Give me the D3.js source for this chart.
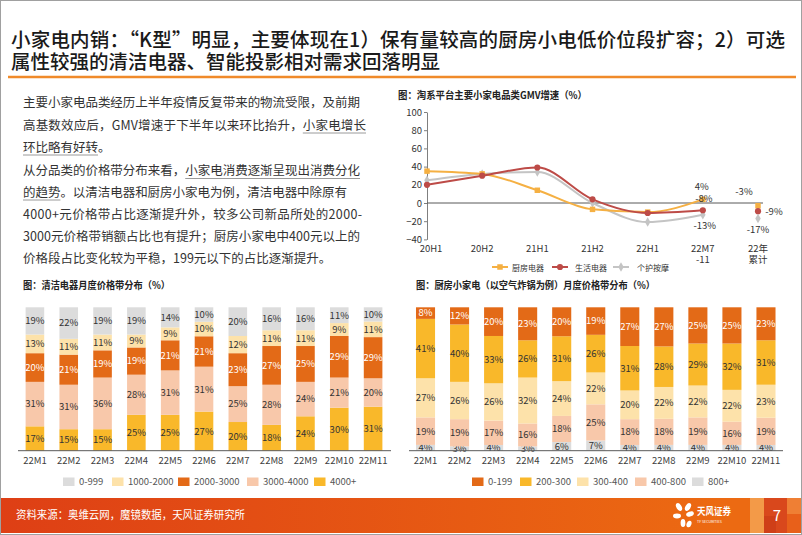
<!DOCTYPE html>
<html><head><meta charset="utf-8">
<script src="https://cdn.jsdelivr.net/npm/d3@7"></script>
<style>
body{margin:0;background:#fff}
svg{display:block}
text{font-family:"Noto Sans CJK SC","Noto Sans",sans-serif}
</style>
</head><body>
<svg id="c" width="802" height="535"></svg>
<script>
// ---------------- DATA ----------------
const titleLines = ["小家电内销：“K型”明显，主要体现在1）保有量较高的厨房小电低价位段扩容；2）可选",
                    "属性较强的清洁电器、智能投影相对需求回落明显"];
const paragraph = [
  [["主要小家电品类经历上半年疫情反复带来的物流受限，及前期",0]],
  [["高基数效应后，GMV增速于下半年以来环比抬升，",0],["小家电增长",1]],
  [["环比略有好转",1],["。",0]],
  [["从分品类的价格带分布来看，",0],["小家电消费逐渐呈现出消费分化",1]],
  [["的趋势",1],["。以清洁电器和厨房小家电为例，清洁电器中除原有",0]],
  [["4000+元价格带占比逐渐提升外，较多公司新品所处的2000-",0]],
  [["3000元价格带销额占比也有提升；厨房小家电中400元以上的",0]],
  [["价格段占比变化较为平稳，199元以下的占比逐渐提升。",0]]
];

const gmvTitle = "图：淘系平台主要小家电品类GMV增速（%）";
const gmvPeriods = ["20H1","20H2","21H1","21H2","22H1","22M7-11","22年累计"];
const gmvPeriodLabels = [["20H1"],["20H2"],["21H1"],["21H2"],["22H1"],["22M7","-11"],["22年","累计"]];
const gmvSeriesNames = ["厨房电器","生活电器","个护按摩"];
const kitchenGmv = [35,32,14,-7,-10,4];
const lifeGmv    = [20,30,39,4,-11,-8];
const careGmv    = [25,32,34,0,-21,-13];
const cumulativeGmv = [-3,-9,-17];
const gmvTicks = [100,80,60,40,20,0,-20,-40];

const months = ["22M1","22M2","22M3","22M4","22M5","22M6","22M7","22M8","22M9","22M10","22M11"];

const cleanTitle = "图：清洁电器月度价格带分布（%）";
const cleanBands = ["0-999","1000-2000","2000-3000","3000-4000","4000+"];
const clean0_999     = [19,22,19,19,14,10,20,16,16,11,10];
const clean1000_2000 = [13,11,11,9,9,10,12,11,11,9,11];
const clean2000_3000 = [20,21,19,19,21,21,23,27,25,29,29];
const clean3000_4000 = [31,31,36,28,31,31,25,28,24,21,20];
const clean4000p     = [17,15,15,25,25,27,20,18,24,30,31];

const fryerTitle = "图：厨房小家电（以空气炸锅为例）月度价格带分布（%）";
const fryerBands = ["0-199","200-300","300-400","400-800","800+"];
const fryer0_199   = [8,12,20,23,20,19,27,27,25,25,23];
const fryer200_300 = [41,40,33,26,31,26,31,28,29,32,31];
const fryer300_400 = [27,26,26,32,24,22,20,22,22,22,23];
const fryer400_800 = [19,19,17,16,18,25,18,18,19,16,19];
const fryer800p    = [4,3,4,3,6,7,4,4,4,4,4];

const sourceText = "资料来源：奥维云网，魔镜数据，天风证券研究所";
const pageNo = "7";

// ---------------- DRAW ----------------
const svg = d3.select("#c");
const C = {gray:"#dcdcdc", pale:"#fde2aa", dark:"#e36a17", salmon:"#f8c8aa", gold:"#f9b82a"};

// page border
svg.append("rect").attr("x",0.5).attr("y",0.5).attr("width",801).attr("height",534)
  .attr("fill","none").attr("stroke","#a0a0a0");

// main title
const tl = [{x:11,y:47,len:774},{x:11,y:69,len:null}];
titleLines.forEach((t,i)=>{
  const e = svg.append("text").attr("x",tl[i].x).attr("y",tl[i].y)
    .attr("font-size",19.5).attr("font-weight",500).attr("fill","#1a1a1a").text(t);
  if(tl[i].len) e.attr("textLength",tl[i].len).attr("lengthAdjust","spacing");
});
svg.append("line").attr("x1",8).attr("x2",796).attr("y1",77).attr("y2",77)
  .attr("stroke","#f08a2a").attr("stroke-width",2.5);

// paragraph
const paraY = [106.5,129.5,151.5,175,196.5,218.5,241,262.5];
const paraLen = [337,343,null,337,324,339,337,null];
paragraph.forEach((segs,i)=>{
  const txt = segs.map(s=>s[0]).join("");
  const t = svg.append("text").attr("x",23).attr("y",paraY[i])
    .attr("font-size",12.5).attr("fill","#333").text(txt);
  if(paraLen[i]) t.attr("textLength",paraLen[i]).attr("lengthAdjust","spacing");
  const node = t.node();
  let idx = 0;
  segs.forEach(s=>{
    const n = s[0].length;
    if(s[1]){
      const x0 = node.getStartPositionOfChar(idx).x;
      const x1 = node.getEndPositionOfChar(idx+n-1).x;
      svg.append("line").attr("x1",x0).attr("x2",x1)
        .attr("y1",paraY[i]+3.5).attr("y2",paraY[i]+3.5)
        .attr("stroke","#9a9a9a").attr("stroke-width",1);
    }
    idx += n;
  });
});

// ---------------- LINE CHART ----------------
(function(){
  const g = svg.append("g");
  g.append("text").attr("x",398).attr("y",99).attr("font-size",10).attr("font-weight","bold")
    .attr("fill","#222").text(gmvTitle).attr("textLength",189).attr("lengthAdjust","spacingAndGlyphs");
  const x = d3.scalePoint().domain(gmvPeriods).range([427,758]);
  const y = d3.scaleLinear().domain([-40,100]).range([239.4,112]);
  const ax = g.append("g").attr("transform","translate(427,0)")
    .call(d3.axisLeft(y).tickValues(gmvTicks).tickSize(3).tickSizeOuter(0));
  ax.select(".domain").attr("stroke","#7f7f7f");
  ax.selectAll(".tick line").attr("stroke","#7f7f7f");
  ax.selectAll(".tick text").attr("font-family","Liberation Sans, Arial").attr("font-size",9.5)
    .attr("fill","#333").attr("x",-5);
  g.append("line").attr("x1",427).attr("x2",763).attr("y1",y(0)).attr("y2",y(0))
    .attr("stroke","#595959").attr("stroke-width",1);
  // x labels
  gmvPeriods.forEach((p,i)=>{
    const t = g.append("text").attr("text-anchor","middle").attr("font-size",9.5)
      .attr("font-family", i===6 ? "Noto Sans CJK SC" : "Liberation Sans, Arial")
      .attr("fill","#333");
    gmvPeriodLabels[i].forEach((l,j)=>{
      t.append("tspan").attr("x",x(p)+(i===0?4:0)).attr("y",252+j*11).text(l);
    });
  });
  const series = [kitchenGmv,lifeGmv,careGmv];
  const colors = ["#f5b043","#bd4b47","#c4c4c4"];
  const shapes = [d3.symbolSquare,d3.symbolCircle,d3.symbolDiamond];
  const sizes = [30,30,26];
  const line = d3.line().x((d,i)=>x(gmvPeriods[i])).y(d=>y(d)).curve(d3.curveMonotoneX);
  [2,0,1].forEach(k=>{
    g.append("path").datum(series[k]).attr("d",line).attr("fill","none")
      .attr("stroke",colors[k]).attr("stroke-width",2);
    g.selectAll(null).data(series[k]).enter().append("path")
      .attr("d",d3.symbol().type(shapes[k]).size(sizes[k]))
      .attr("transform",(d,i)=>`translate(${x(gmvPeriods[i])},${y(d)})`)
      .attr("fill",colors[k]);
    g.append("path").attr("d",d3.symbol().type(shapes[k]).size(sizes[k]))
      .attr("transform",`translate(${x(gmvPeriods[6])},${y(cumulativeGmv[k])})`)
      .attr("fill",colors[k]);
  });
  // data labels
  const lab = (txt,px,py)=>g.append("text").attr("x",px).attr("y",py)
    .attr("text-anchor","middle").attr("font-family","Liberation Sans, Arial")
    .attr("font-size",9.5).attr("fill","#333").text(txt);
  const p6 = x(gmvPeriods[5]), p7 = x(gmvPeriods[6]);
  lab(kitchenGmv[5]+"%", p6-1, y(kitchenGmv[5])-9);
  lab(lifeGmv[5]+"%", p6+1, y(lifeGmv[5])-8.5);
  lab(careGmv[5]+"%", p6+2, y(careGmv[5])+14);
  lab(cumulativeGmv[0]+"%", p7-14, y(cumulativeGmv[0])-10.5);
  lab(cumulativeGmv[1]+"%", p7+16, y(cumulativeGmv[1])+3.5);
  lab(cumulativeGmv[2]+"%", p7, y(cumulativeGmv[2])+15);
  // legend
  const lx = [492,552,613], tx = [512,575,637];
  gmvSeriesNames.forEach((n,k)=>{
    g.append("line").attr("x1",lx[k]).attr("x2",lx[k]+16).attr("y1",267).attr("y2",267)
      .attr("stroke",colors[k]).attr("stroke-width",2);
    g.append("path").attr("d",d3.symbol().type(shapes[k]).size(sizes[k]))
      .attr("transform",`translate(${lx[k]+8},267)`).attr("fill",colors[k]);
    g.append("text").attr("x",tx[k]).attr("y",270.5).attr("font-size",8)
      .attr("fill","#333").text(n);
  });
})();

// ---------------- STACKED BARS ----------------
function stackChart(cfg){
  const g = svg.append("g");
  g.append("text").attr("x",cfg.titleX).attr("y",289).attr("font-size",9.8).attr("font-weight","bold")
    .attr("fill","#222").text(cfg.title).attr("textLength",cfg.titleLen).attr("lengthAdjust","spacingAndGlyphs");
  const rows = months.map((m,i)=>{const r={month:m}; cfg.keys.forEach((k,j)=>r[k]=cfg.series[j][i]); return r;});
  const stacked = d3.stack().keys(cfg.keys).offset(d3.stackOffsetExpand)(rows);
  const x = d3.scaleBand().domain(months).range(cfg.xr).paddingInner(cfg.pad).paddingOuter(cfg.pad/2);
  const y = d3.scaleLinear().domain([0,1]).range([450.7,307.3]);
  stacked.forEach(s=>{
    const k = s.key;
    g.selectAll(null).data(s).enter().append("rect")
      .attr("x",d=>x(d.data.month)).attr("width",x.bandwidth())
      .attr("y",d=>y(d[1])).attr("height",d=>y(d[0])-y(d[1]))
      .attr("fill",cfg.colors[k]);
    g.selectAll(null).data(s).enter().append("text")
      .attr("x",d=>x(d.data.month)+x.bandwidth()/2)
      .attr("y",d=>(y(d[0])+y(d[1]))/2+3.4)
      .attr("text-anchor","middle").attr("font-family","Roboto").attr("font-size",9.5)
      .attr("fill",cfg.labelColors[k]||"#333")
      .text(d=>d.data[k]+"%");
  });
  g.append("line").attr("x1",cfg.axis[0]).attr("x2",cfg.axis[1]).attr("y1",450.7).attr("y2",450.7)
    .attr("stroke","#595959").attr("stroke-width",1);
  g.selectAll(null).data(months).enter().append("text")
    .attr("x",d=>x(d)+x.bandwidth()/2).attr("y",463.5).attr("text-anchor","middle")
    .attr("font-family","Roboto").attr("font-size",9.5).attr("fill","#404040").text(d=>d);
  cfg.legendOrder.forEach((k,i)=>{
    g.append("rect").attr("x",cfg.legendX[i]).attr("y",477.5).attr("width",11.5).attr("height",8.5)
      .attr("fill",cfg.colors[k]);
    g.append("text").attr("x",cfg.legendX[i]+16).attr("y",485).attr("font-family","Roboto")
      .attr("font-size",9.5).attr("fill","#555").text(k);
  });
}

stackChart({
  title: cleanTitle, titleX:23, titleLen:147,
  keys: ["4000+","3000-4000","2000-3000","1000-2000","0-999"],
  series: [clean4000p,clean3000_4000,clean2000_3000,clean1000_2000,clean0_999],
  colors: {"0-999":C.gray,"1000-2000":C.pale,"2000-3000":C.dark,"3000-4000":C.salmon,"4000+":C.gold},
  labelColors: {"2000-3000":"#fff"},
  xr:[18,390], pad:0.45, axis:[18,391],
  legendOrder: cleanBands, legendX:[63,112,178,247,314]
});
stackChart({
  title: fryerTitle, titleX:416, titleLen:239,
  keys: ["800+","400-800","300-400","200-300","0-199"],
  series: [fryer800p,fryer400_800,fryer300_400,fryer200_300,fryer0_199],
  colors: {"0-199":C.dark,"200-300":C.gold,"300-400":C.pale,"400-800":C.salmon,"800+":C.gray},
  labelColors: {"0-199":"#fff"},
  xr:[408.5,783], pad:0.44, axis:[409,783],
  legendOrder: fryerBands, legendX:[472,520,577,635,692]
});

// ---------------- FOOTER ----------------
const defs = svg.append("defs");
const grad = defs.append("linearGradient").attr("id","fg").attr("x1","0").attr("x2","1");
grad.append("stop").attr("offset","0").attr("stop-color","#de3f15");
grad.append("stop").attr("offset","0.9").attr("stop-color","#ec6a12");
svg.append("rect").attr("x",1).attr("y",498).attr("width",800).attr("height",35).attr("fill","url(#fg)");
svg.append("rect").attr("x",750).attr("y",498).attr("width",14).attr("height",35).attr("fill","#f39a48");
svg.append("rect").attr("x",764).attr("y",498).attr("width",23).attr("height",35).attr("fill","#d9481c");
svg.append("rect").attr("x",764).attr("y",516).attr("width",12).attr("height",17).attr("fill","#cf3f18");
svg.append("rect").attr("x",787).attr("y",498).attr("width",14).attr("height",35).attr("fill","#e8601a");
svg.append("rect").attr("x",787).attr("y",498).attr("width",14).attr("height",16).attr("fill","#ef7f34");
svg.append("text").attr("x",16).attr("y",519).attr("font-size",11).attr("fill","#fff")
  .text(sourceText).attr("textLength",229).attr("lengthAdjust","spacingAndGlyphs");
// logo
const lg = svg.append("g").attr("fill","#fff");
[[679,507,2.6,4.2,-30],[688,507,2.6,4.2,30],[677,516,4,2.4,0],[690,514,4,2.4,-20],[683,523,2.4,4,0],[689,524,2.4,3.4,20]]
  .forEach(e=>lg.append("ellipse").attr("cx",e[0]).attr("cy",e[1]).attr("rx",e[2]).attr("ry",e[3])
    .attr("transform",`rotate(${e[4]},${e[0]},${e[1]})`));
svg.append("circle").attr("cx",683.5).attr("cy",515).attr("r",1.6).attr("fill","#ec6a12");
svg.append("text").attr("x",697).attr("y",515).attr("font-size",10).attr("font-weight","bold")
  .attr("fill","#fff").text("天风证券").attr("textLength",34).attr("lengthAdjust","spacingAndGlyphs");
svg.append("text").attr("x",697).attr("y",523).attr("font-family","Roboto").attr("font-size",3.6)
  .attr("fill","#fff").text("TF SECURITIES");
svg.append("text").attr("x",777).attr("y",521).attr("text-anchor","middle").attr("font-family","Roboto")
  .attr("font-size",15).attr("fill","#fff").text(pageNo);
</script>
</body></html>
